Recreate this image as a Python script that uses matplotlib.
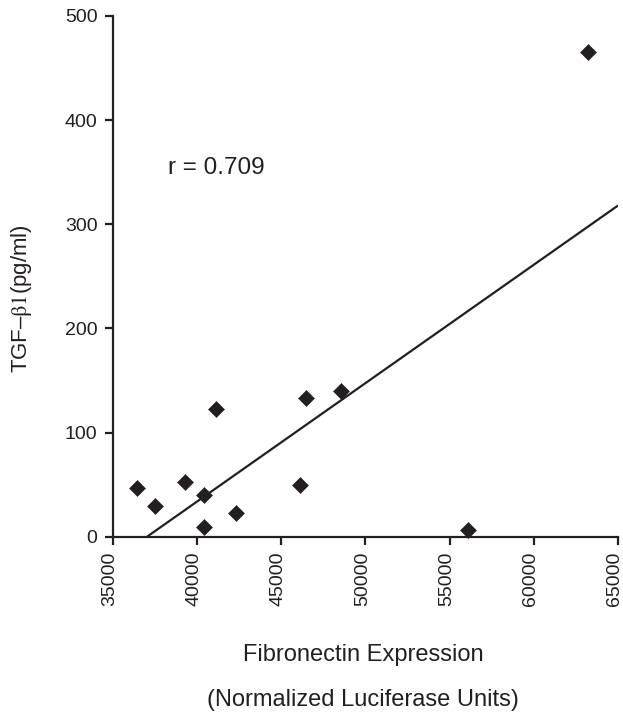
import matplotlib
matplotlib.use('Agg')
import matplotlib.pyplot as plt
from matplotlib.transforms import ScaledTranslation

# ── Data ──────────────────────────────────────
fn_expr = [36470, 37520, 39270, 40440, 40440, 41160, 42330, 46130, 46470, 48530, 56110, 63230]
tgf_b1 = [46.5, 29.7, 52.5, 40.1, 9.1, 122.6, 23.2, 49.2, 133.0, 140.2, 6.1, 465.6]

fit_x = [37040, 65000]
fit_y = [0, 318]

x_ticks = [35000, 40000, 45000, 50000, 55000, 60000, 65000]
y_ticks = [0, 100, 200, 300, 400, 500]

INK = '#231f20'
plt.rcParams['font.family'] = ['Liberation Sans', 'DejaVu Sans']
plt.rcParams['mathtext.fontset'] = 'stix'

W, H = 623, 721
fig = plt.figure(figsize=(W / 100, H / 100), dpi=100)
ax = fig.add_axes([112.7 / W, 1 - 536.7 / H, (618 - 112.7) / W, (536.7 - 16) / H])

ax.plot(fit_x, fit_y, color=INK, lw=1.6, solid_capstyle='butt')
ax.plot(fn_expr, tgf_b1, linestyle='none', marker='D', markersize=8.3,
        color=INK, markeredgewidth=0.4, clip_on=False)

ax.set_xlim(35000, 65000)
ax.set_ylim(0, 500)
ax.set_xticks(x_ticks)
ax.set_yticks(y_ticks)
ax.set_xticklabels([str(t) for t in x_ticks], rotation=90)

for side in ['top', 'right']:
    ax.spines[side].set_visible(False)
for side in ['left', 'bottom']:
    ax.spines[side].set_linewidth(1.6)
    ax.spines[side].set_color(INK)
ax.tick_params(direction='out', length=6, width=1.6, colors=INK, labelsize=14, pad=5)

# x tick labels sit a touch left of their ticks in the reference
shift = ScaledTranslation(-3 / 100, 0, fig.dpi_scale_trans)
for lbl in ax.get_xticklabels():
    lbl.set_transform(lbl.get_transform() + shift)

ax.text(38260, 354, 'r = 0.709', fontsize=17.5, color=INK, ha='left', va='center')

fig.text(22 / W, 1 - 299 / H, 'TGF\u2013$\\mathrm{\\beta 1}$(pg/ml)', rotation=90,
         fontsize=16, color=INK, ha='center', va='center')
fig.text(363 / W, 1 - 655 / H, 'Fibronectin Expression', fontsize=17, color=INK,
         ha='center', va='center')
fig.text(363 / W, 1 - 700 / H, '(Normalized Luciferase Units)', fontsize=17, color=INK,
         ha='center', va='center')

fig.savefig('out.png', dpi=100, facecolor='white')
